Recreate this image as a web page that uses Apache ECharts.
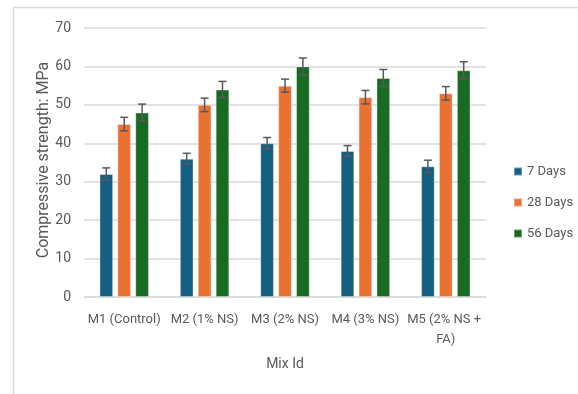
<!DOCTYPE html>
<html>
<head>
<meta charset="utf-8">
<script src="https://cdn.jsdelivr.net/npm/echarts@6/dist/echarts.min.js"></script>
<style>
  html, body { margin: 0; padding: 0; background: #fff; }
  #chart { width: 578px; height: 394px; }
</style>
</head>
<body>
<div id="chart"></div>
<script>
const mixIds = ['M1 (Control)', 'M2 (1% NS)', 'M3 (2% NS)', 'M4 (3% NS)', 'M5 (2% NS + FA)']
const seriesNames = ['7 Days', '28 Days', '56 Days']
const days7 = [32, 36, 40, 38, 34]
const days28 = [45, 50, 55, 52, 53]
const days56 = [48, 54, 60, 57, 59]
const err7 = [1.6, 1.4, 1.5, 1.4, 1.6]
const err28 = [1.75, 1.75, 1.7, 1.75, 1.75]
const err56 = [2.2, 2.1, 2.2, 2.2, 2.2]
const yTicks = [0, 10, 20, 30, 40, 50, 60, 70]
const yTitle = 'Compressive strength: MPa'

const colors = ['#156082', '#e97132', '#196b24']
const BAR_PCT = 0.17
const GAP_PCT = 0.31
const font = 'Roboto, "Noto Sans", sans-serif'

const chart = echarts.init(document.getElementById('chart'), null, { renderer: 'canvas' })

function errSeries(idx, vals, errs) {
  return {
    type: 'custom',
    name: seriesNames[idx] + ' err',
    z: 5,
    silent: true,
    data: vals.map((v, i) => [i, v - errs[i], v + errs[i]]),
    renderItem: (params, api) => {
      const band = api.size([1, 0])[0]
      const w = band * BAR_PCT
      const off = (idx - 1) * (w * (1 + GAP_PCT))
      const lo = api.coord([api.value(0), api.value(1)])
      const hi = api.coord([api.value(0), api.value(2)])
      const x = lo[0] + off
      const cap = 4
      const style = { stroke: '#595959', lineWidth: 1.5 }
      return {
        type: 'group',
        children: [
          { type: 'line', shape: { x1: x, y1: lo[1], x2: x, y2: hi[1] }, style },
          { type: 'line', shape: { x1: x - cap, y1: lo[1], x2: x + cap, y2: lo[1] }, style },
          { type: 'line', shape: { x1: x - cap, y1: hi[1], x2: x + cap, y2: hi[1] }, style },
        ],
      }
    },
  }
}

const barData = [days7, days28, days56]
const errData = [err7, err28, err56]

chart.setOption({
  animation: false,
  textStyle: { fontFamily: font },
  color: colors,
  graphic: [
    { type: 'line', shape: { x1: 13.5, y1: 7.5, x2: 578, y2: 7.5 }, style: { stroke: '#d9d9d9', lineWidth: 1.5 } },
    { type: 'line', shape: { x1: 13.5, y1: 7.5, x2: 13.5, y2: 394 }, style: { stroke: '#d9d9d9', lineWidth: 1.5 } },
    {
      type: 'text',
      x: 44,
      y: 160,
      rotation: Math.PI / 2,
      style: {
        text: yTitle,
        fill: '#595959',
        font: '16px ' + font,
        align: 'center',
        verticalAlign: 'middle',
      },
    },
  ],
  grid: { left: 84, right: 92, top: 28, bottom: 97 },
  legend: {
    orient: 'vertical',
    left: 508,
    top: 160,
    itemWidth: 8,
    itemHeight: 8,
    itemGap: 18,
    icon: 'rect',
    data: seriesNames,
    textStyle: { color: '#595959', fontSize: 13, fontFamily: font },
  },
  xAxis: {
    type: 'category',
    data: mixIds,
    name: 'Mix Id',
    nameLocation: 'middle',
    nameGap: 60,
    nameTextStyle: { color: '#595959', fontSize: 14 },
    axisLine: { lineStyle: { color: '#d9d9d9', width: 1.5 } },
    axisTick: { show: false },
    axisLabel: {
      color: '#595959',
      fontSize: 13,
      margin: 13,
      width: 80,
      overflow: 'break',
      lineHeight: 20,
      interval: 0,
    },
  },
  yAxis: {
    type: 'value',
    min: yTicks[0],
    max: yTicks[yTicks.length - 1],
    interval: 10,
    axisLine: { show: false },
    axisTick: { show: false },
    splitLine: { lineStyle: { color: '#d9d9d9', width: 1.5 } },
    axisLabel: { color: '#595959', fontSize: 14, margin: 13 },
  },
  series: [
    ...barData.map((vals, i) => ({
      type: 'bar',
      name: seriesNames[i],
      data: vals,
      barWidth: (BAR_PCT * 100) + '%',
      barGap: (GAP_PCT * 100) + '%',
      itemStyle: { color: colors[i], borderColor: 'rgba(255,255,255,0.35)', borderWidth: 1 },
    })),
    ...errData.map((errs, i) => errSeries(i, barData[i], errs)),
  ],
})
</script>
</body>
</html>
